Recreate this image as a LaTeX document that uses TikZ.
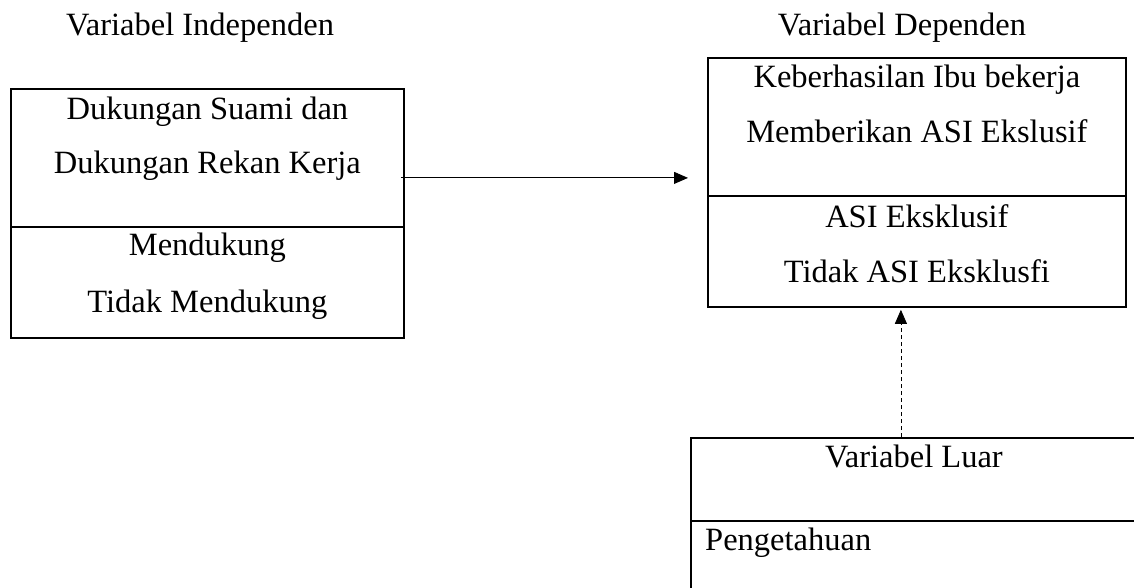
\documentclass[tikz,border=0pt]{standalone}
\usepackage{fontspec}
\setmainfont{Liberation Serif}
\usetikzlibrary{arrows.meta}

\def\fsize{32.5}
\def\boxlw{1.8pt}

\begin{document}
\begin{tikzpicture}[x=1pt, y=-1pt,
                    >={Triangle[length=14pt,width=12pt]},
                    box/.style={draw, line width=\boxlw, inner sep=0pt, anchor=north west},
                    txt/.style={anchor=base, inner sep=0pt, font=\fontsize{\fsize}{39}\selectfont}
                   ]
\useasboundingbox (0,0) rectangle (1134,587);

% headers
\node[txt] (hind) at (200,35) {Variabel Independen};
\node[txt] (hdep) at (902,35) {Variabel Dependen};

% boxes
\node[box, minimum width=393pt, minimum height=138pt] (ind)    at (10,88)   {};
\node[box, minimum width=393pt, minimum height=111pt] (indval) at (10,226)  {};
\node[box, minimum width=418pt, minimum height=138pt] (dep)    at (707,57)  {};
\node[box, minimum width=418pt, minimum height=111pt] (depval) at (707,195) {};
\node[box, minimum width=446pt, minimum height=83pt]  (luar)   at (690,437) {};
\node[box, minimum width=446pt, minimum height=100pt] (luarval) at (690,520) {};

% box texts
\foreach \b/\d/\nm/\t in {ind/31/suami/Dukungan Suami dan,
                          ind/85/rekan/Dukungan Rekan Kerja,
                          indval/29/dukung/Mendukung,
                          indval/86/tdkdukung/Tidak Mendukung,
                          dep/30/hasil/Keberhasilan Ibu bekerja,
                          dep/85/beri/Memberikan ASI Ekslusif,
                          depval/32/asi/ASI Eksklusif,
                          depval/87/tdkasi/Tidak ASI Eksklusfi,
                          luar/30/vluar/Variabel Luar}{
    \node[txt] (\nm) at ([shift={(0,\d)}]\b.north) {\t};
}
\node[txt, anchor=base west] (tahu) at ([shift={(15,30)}]luarval.north west) {Pengetahuan};

% connectors
\draw [->, line width=0.9pt] ([shift={(-4,20)}]ind.east) coordinate (a0)
      -- (a0 -| dep.west) [shorten >=19pt];
\draw [->, line width=0.8pt, dash pattern=on 4pt off 3pt]
      ([xshift=-13pt]luar.north) coordinate (b0) -- (b0 |- depval.south) [shorten >=2pt];
\end{tikzpicture}
\end{document}
